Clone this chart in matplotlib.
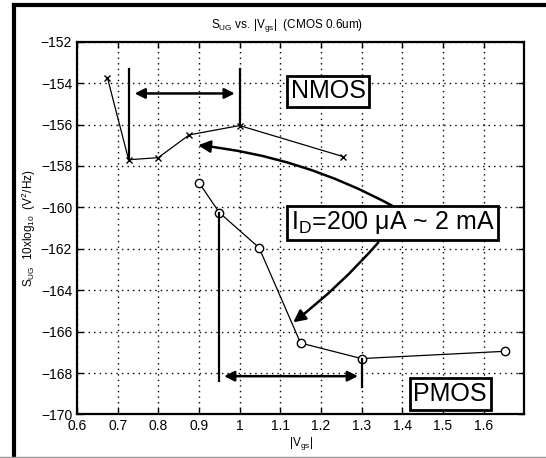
import matplotlib
matplotlib.use('Agg')
import matplotlib.pyplot as plt
from matplotlib.lines import Line2D

plt.rcParams['font.family'] = ['Liberation Sans', 'DejaVu Sans']
plt.rcParams['mathtext.default'] = 'regular'

# data
nmos_v = [0.675, 0.727, 0.80, 0.876, 1.00, 1.255]
nmos_s = [-153.75, -157.7, -157.6, -156.5, -156.05, -157.55]
pmos_v = [0.90, 0.95, 1.048, 1.15, 1.30, 1.652]
pmos_s = [-158.8, -160.25, -161.95, -166.55, -167.3, -166.95]

xticks = [0.6, 0.7, 0.8, 0.9, 1, 1.1, 1.2, 1.3, 1.4, 1.5, 1.6]
xticklabels = ['0.6', '0.7', '0.8', '0.9', '1', '1.1', '1.2', '1.3', '1.4', '1.5', '1.6']
yticks = [-170, -168, -166, -164, -162, -160, -158, -156, -154, -152]

fig = plt.figure(figsize=(5.46, 4.58), dpi=100)
ax = fig.add_axes([0.141, 0.095, 0.819, 0.814])

ax.plot(nmos_v, nmos_s, 'k-', marker='x', ms=5, mew=1, lw=0.9)
ax.plot(pmos_v, pmos_s, 'k-', marker='o', ms=6, mfc='white', mew=1, lw=0.9)

ax.set_xlim(0.6, 1.7)
ax.set_ylim(-170, -152)
ax.set_xticks(xticks)
ax.set_xticklabels(xticklabels)
ax.set_yticks(yticks)
ax.tick_params(direction='in', length=4, width=1, labelsize=10, top=True, right=True)
ax.grid(True, color='k', linestyle=(0, (1, 3)), lw=1)
for sp in ax.spines.values():
    sp.set_linewidth(1.6)

ax.set_title('S$_{UG}$ vs. |V$_{gs}$|  (CMOS 0.6um)', fontsize=8.5, pad=10, x=0.47)
ax.set_xlabel('|V$_{gs}$|', fontsize=8.5, labelpad=1)
ax.set_ylabel('S$_{UG}$  10xlog$_{10}$  (V$^2$/Hz)', fontsize=8.5, labelpad=2)

# NMOS range markers
ax.plot([0.727, 0.727], [-153.3, -157.7], 'k-', lw=1.6)
ax.plot([1.0, 1.0], [-153.3, -156.05], 'k-', lw=1.6)
ax.annotate('', xy=(0.735, -154.5), xytext=(0.995, -154.5),
            arrowprops=dict(arrowstyle='<|-|>', color='k', lw=1.8, mutation_scale=15))

# PMOS range markers
ax.plot([0.95, 0.95], [-160.25, -168.4], 'k-', lw=1.6)
ax.plot([1.3, 1.3], [-167.3, -168.65], 'k-', lw=1.6)
ax.annotate('', xy=(0.955, -168.15), xytext=(1.298, -168.15),
            arrowprops=dict(arrowstyle='-|>', color='k', lw=1.8, mutation_scale=15) | {'arrowstyle': '<|-|>'})

# current range arrows
ax.annotate('', xy=(0.898, -157.0), xytext=(1.378, -159.95),
            arrowprops=dict(arrowstyle='-|>', color='k', lw=1.8, mutation_scale=18,
                            connectionstyle='arc3,rad=0.1', shrinkA=0, shrinkB=0))
ax.annotate('', xy=(1.132, -165.55), xytext=(1.341, -161.7),
            arrowprops=dict(arrowstyle='-|>', color='k', lw=1.8, mutation_scale=18,
                            connectionstyle='arc3,rad=-0.05', shrinkA=0, shrinkB=0))

box = dict(boxstyle='square,pad=0.15', fc='white', ec='k', lw=2)
ax.text(1.218, -154.4, 'NMOS', fontsize=18, ha='center', va='center', bbox=box, zorder=5)
ax.text(1.376, -160.75, 'I$_D$=200 \u03bcA ~ 2 mA', fontsize=18, ha='center', va='center',
        bbox=box, zorder=5)
ax.text(1.518, -169.0, 'PMOS', fontsize=18, ha='center', va='center', bbox=box, zorder=5)

# outer frame of the scanned figure
fig.add_artist(Line2D([0.0256, 0.0256], [0.0, 0.988], transform=fig.transFigure, color='k', lw=3))
fig.add_artist(Line2D([0.0256, 1.0], [0.988, 0.988], transform=fig.transFigure, color='k', lw=3))
fig.add_artist(Line2D([0.0, 1.0], [0.002, 0.002], transform=fig.transFigure, color='0.6', lw=1))

fig.savefig('out.png', dpi=100)
